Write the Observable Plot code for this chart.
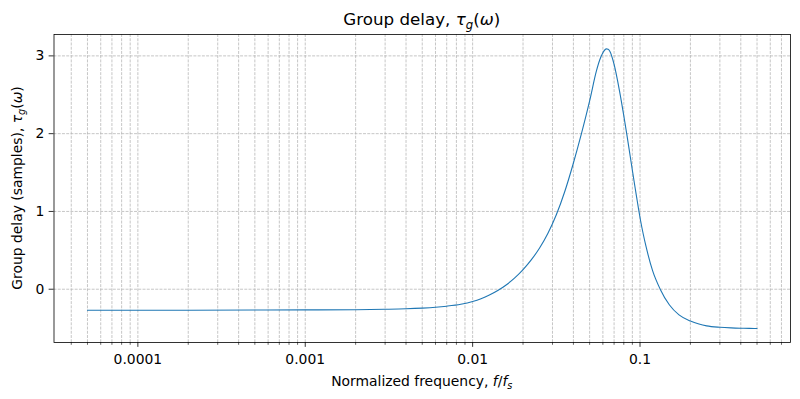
<!DOCTYPE html>
<html>
<head>
<meta charset="utf-8">
<script src="https://cdn.jsdelivr.net/npm/d3@7"></script>
<script src="https://cdn.jsdelivr.net/npm/@observablehq/plot@0.6"></script>
<style>
  body { margin: 0; background: #fff; }
  svg { display: block; }
</style>
</head>
<body>
<div id="chart"></div>
<script>
// Normalized frequency f/fs
const freq = [5e-5, 1e-4, 2e-4, 5e-4, 1e-3, 2e-3, 3e-3, 4e-3, 5e-3, 6e-3, 7e-3, 8.5e-3,
  0.01, 0.01122, 0.01259, 0.01413, 0.01585, 0.01778, 0.01995, 0.02239, 0.02512, 0.02818,
  0.03162, 0.03548, 0.03981, 0.04467, 0.05012, 0.0548, 0.0575, 0.06, 0.0629, 0.0645, 0.066,
  0.07, 0.0754, 0.08, 0.0834, 0.0875, 0.09, 0.0922, 0.0955, 0.0982, 0.1006, 0.1045, 0.1086,
  0.119, 0.132, 0.1496, 0.171, 0.2, 0.225, 0.25, 0.3, 0.35, 0.4, 0.45, 0.5];
// Group delay in samples
const delay = [-0.27, -0.27, -0.27, -0.268, -0.266, -0.263, -0.258, -0.252, -0.243, -0.232, -0.218, -0.193,
  -0.158, -0.122, -0.075, -0.017, 0.055, 0.143, 0.249, 0.377, 0.53, 0.72,
  0.957, 1.253, 1.607, 2.0, 2.43, 2.8, 2.95, 3.04, 3.09, 3.085, 3.06,
  2.89, 2.55, 2.23, 1.99, 1.7, 1.53, 1.385, 1.18, 1.02, 0.89, 0.71, 0.55,
  0.235, 0.0, -0.2, -0.33, -0.41, -0.448, -0.471, -0.489, -0.497, -0.501, -0.503, -0.505];

const majorTicks = [1e-4, 1e-3, 1e-2, 1e-1];
const majorLabels = ["0.0001", "0.001", "0.01", "0.1"];
const yTicks = [0, 1, 2, 3];

const titleText = "Group delay, ";
const xLabelText = "Normalized frequency, ";
const yLabelText = "Group delay (samples), ";

const data = freq.map((f, i) => ({f, d: delay[i]}));

const minorTicks = [];
for (const dec of [1e-5, 1e-4, 1e-3, 1e-2, 1e-1]) {
  for (let k = 2; k <= 9; k++) {
    const v = k * dec;
    if (v >= 3.2e-5 && v <= 0.78) minorTicks.push(v);
  }
}
const allX = majorTicks.concat(minorTicks);

const W = 800, H = 399;
const mL = 53.5, mR = 10, mT = 34, mB = 57;
const dash = "2.96,1.28";
const gridColor = "#b0b0b0";

const plot = Plot.plot({
  width: W,
  height: H,
  marginLeft: mL,
  marginRight: mR,
  marginTop: mT,
  marginBottom: mB,
  style: {fontFamily: "DejaVu Sans", fontSize: "13.9px", color: "#000", background: "#fff"},
  x: {type: "log", domain: [Math.pow(10, -4.501), Math.pow(10, -0.101)]},
  y: {domain: [-0.685, 3.275]},
  marks: [
    Plot.gridX(allX, {stroke: gridColor, strokeOpacity: 0.9, strokeWidth: 0.8, strokeDasharray: dash}),
    Plot.gridY(yTicks, {stroke: gridColor, strokeOpacity: 0.9, strokeWidth: 0.8, strokeDasharray: dash}),
    Plot.line(data, {x: "f", y: "d", stroke: "#1f77b4", strokeWidth: 1.1, curve: "monotone-x"}),
    Plot.axisX(majorTicks, {tickSize: 4.86, tickPadding: 6.5, tickFormat: (d) => majorLabels[majorTicks.indexOf(d)], strokeWidth: 0.8, label: null, fontSize: 13.9}),
    Plot.axisX(minorTicks, {tickSize: 2.8, tickFormat: () => "", strokeWidth: 0.6, label: null}),
    Plot.axisY(yTicks, {tickSize: 4.86, tickPadding: 4.86, tickFormat: d => String(d), strokeWidth: 0.8, label: null, fontSize: 13.9}),
    Plot.frame({stroke: "#000", strokeWidth: 0.8})
  ]
});

document.getElementById("chart").appendChild(plot);

const svg = d3.select(plot);
const cx = (mL + (W - mR)) / 2;
const font = "DejaVu Sans";

// Title
const t = svg.append("text")
  .attr("x", cx).attr("y", 25)
  .attr("text-anchor", "middle")
  .attr("font-family", font).attr("font-size", 16.7).attr("fill", "#000");
t.append("tspan").text(titleText);
t.append("tspan").attr("font-style", "italic").text("τ");
t.append("tspan").attr("font-style", "italic").attr("font-size", 11.7).attr("dy", 3.5).text("g");
t.append("tspan").attr("dy", -3.5).text("(");
t.append("tspan").attr("font-style", "italic").text("ω");
t.append("tspan").text(")");

// X label
const xl = svg.append("text")
  .attr("x", cx).attr("y", 386)
  .attr("text-anchor", "middle")
  .attr("font-family", font).attr("font-size", 13.9).attr("fill", "#000");
xl.append("tspan").text(xLabelText);
xl.append("tspan").attr("font-style", "italic").text("f");
xl.append("tspan").text("/");
xl.append("tspan").attr("font-style", "italic").text("f");
xl.append("tspan").attr("font-style", "italic").attr("font-size", 9.7).attr("dy", 2.8).text("s");

// Y label
const cy = (mT + (H - mB)) / 2;
const yl = svg.append("text")
  .attr("transform", `translate(22,${cy}) rotate(-90)`)
  .attr("text-anchor", "middle")
  .attr("font-family", font).attr("font-size", 13.9).attr("fill", "#000");
yl.append("tspan").text(yLabelText);
yl.append("tspan").attr("font-style", "italic").text("τ");
yl.append("tspan").attr("font-style", "italic").attr("font-size", 9.7).attr("dy", 2.8).text("g");
yl.append("tspan").attr("dy", -2.8).text("(");
yl.append("tspan").attr("font-style", "italic").text("ω");
yl.append("tspan").text(")");
</script>
</body>
</html>
